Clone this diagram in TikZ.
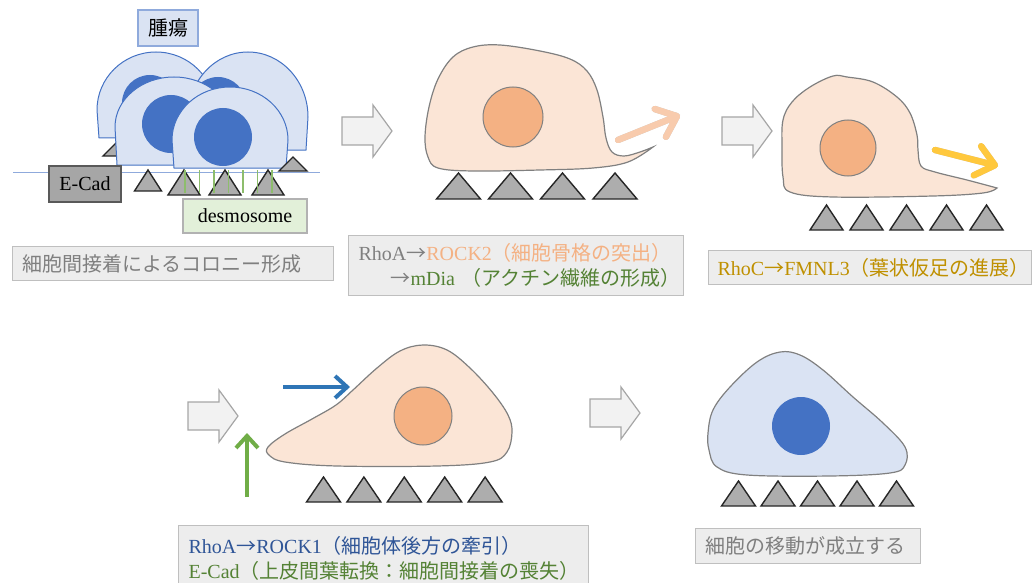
\documentclass[tikz,border=0pt]{standalone}
\usepackage{fontspec}
\setmainfont{Liberation Serif}
\newfontfamily\jpfont{Noto Sans CJK JP}
\usetikzlibrary{arrows.meta}
\newcommand{\ja}[1]{{\jpfont #1}}
\newcommand{\ra}{\ja{→}}
\definecolor{cellpeach}{HTML}{FBE5D6}
\definecolor{nucpeach}{HTML}{F4B183}
\definecolor{cellblue}{HTML}{DAE3F3}
\definecolor{nucblue}{HTML}{4472C4}
\definecolor{rimblue}{HTML}{8FAADC}
\definecolor{mintgreen}{HTML}{E2F0D9}
\definecolor{boxgray}{HTML}{EDEDED}
\definecolor{linegray}{HTML}{BFBFBF}
\definecolor{txtgray}{HTML}{7F7F7F}
\definecolor{outline}{HTML}{808080}
\definecolor{rockblue}{HTML}{2F5597}
\definecolor{pullblue}{HTML}{2E75B6}
\definecolor{leafgreen}{HTML}{548235}
\definecolor{emtgreen}{HTML}{70AD47}
\definecolor{gold}{HTML}{BF9000}
\definecolor{lamella}{HTML}{FFC83D}
\definecolor{bleb}{HTML}{F8CBAD}
\tikzset{
  txt/.style={font=\fontsize{10}{12.5}\selectfont},
  cell/.style={draw=outline, fill=cellpeach, line width=0.6pt},
  nucleus/.style={draw=outline, fill=nucpeach, line width=0.5pt},
  colony/.style={draw=nucblue, fill=cellblue, line width=0.5pt},
  focal/.style={draw=black!85, fill=black!32, line width=0.7pt, line join=miter},
  desmo/.style={draw=emtgreen!80, line width=0.6pt},
  capbox/.style={
      txt,
      draw=linegray,
      fill=boxgray,
      line width=0.6pt,
      anchor=north west,
      align=left,
      inner xsep=5pt,
      inner ysep=0pt,
      text=txtgray
  },
  tagbox/.style={txt, draw, line width=0.6pt, inner sep=0pt},
  movearrow/.style={line width=3.2pt, line cap=round, -{Straight Barb[length=9pt,width=15pt,round]}},
  thinarrow/.style={line width=2pt, -{Straight Barb[length=6pt,width=11pt]}},
  shadowed/.style={draw=black!22, shift={(1.5,2.5)}},
  pics/nextstage/.style={
      code={
        \draw[fill=black!5, draw=black!35, line width=0.6pt]
          (0,-14) -- (31,-14) -- (31,-26) -- (50,0) -- (31,26) -- (31,14) -- (0,14) -- cycle;
      }
  }
}
\begin{document}
\begin{tikzpicture}[x=0.5pt,y=-0.5pt]
	\useasboundingbox (0,0) rectangle (1033,583);

	% colony
	\draw[rimblue, line width=0.5pt] (13,172) -- (320,172);
	\draw[focal] (103,156) -- (118,141) -- (133,156) -- cycle;
	\draw[colony] (99,138) -- (97,110) arc[start angle=180, end angle=360, x radius=59, y radius=58] -- (215,138) -- cycle;
	\fill[nucblue] (150,103) circle[radius=28];
	\draw[colony] (190,150) -- (188,117) arc[start angle=180, end angle=360, x radius=60, y radius=65] -- (306,150) -- cycle;
	\fill[nucblue] (218,105) circle[radius=28];
	\draw[colony] (117,165) -- (115,127) arc[start angle=180, end angle=360, x radius=59, y radius=50] -- (231,165) -- cycle;
	\fill[nucblue] (171,124) circle[radius=29];
	\draw[colony] (174,168) -- (172,140) arc[start angle=180, end angle=360, x radius=58, y radius=53] -- (286,168) -- cycle;
	\fill[nucblue] (223,137) circle[radius=29];
	\draw[focal] (279,171) -- (293,157) -- (307,171) -- cycle;
	\draw[focal] (134.5,191) -- (148,170) -- (161.5,191) -- cycle;
	\foreach \x in {184,225,268}
		\draw[focal] (\x-16,195) -- (\x,170) -- (\x+16,195) -- cycle;
	\foreach \i in {0,...,6}
		\draw[desmo] (185+14.5*\i,170) -- (185+14.5*\i,193);
	\node[tagbox, fill=cellblue, draw=rimblue, minimum width=30pt, minimum height=18pt] (tumor) at (168,28) {\ja{腫瘍}};
	\node[tagbox, fill=black!35, draw=black!65, minimum width=36pt, minimum height=18pt] (ecad) at (85,184) {E-Cad};
	\node[tagbox, fill=mintgreen, draw=black!30, minimum width=62pt, minimum height=17pt] (desmosome) at (245,216) {desmosome};
	\node[capbox, text width=150.5pt, minimum height=17pt] (cap1) at (12,246) {\ja{細胞間接着によるコロニー形成}};

	% protrusion
	\pic at (342,131) {nextstage};
	\draw[cell] plot[smooth, tension=0.6] coordinates {(653,147) (640,152) (624,156) (612,152) (606,138) (603,117) (597,90) (587,71) (570,59) (540,51) (500,45) (473,47) (453,57) (438,79) (429,107) (425,137) (428,157) (438,168) (473,171) (540,170) (593,168) (628,162) (653,147)} -- cycle;
	\draw[nucleus] (513,117) circle[radius=30];
	\foreach \x in {458.5,510.5,562.5,615}
		\draw[focal] (\x-22,199) -- (\x,173) -- (\x+22,199) -- cycle;
	\coordinate (bleb0) at (618,140);
	\coordinate (bleb1) at (680,115);
	\draw[movearrow, shadowed] (bleb0) -- (bleb1);
	\draw[movearrow, bleb] (bleb0) -- (bleb1);
	\node[capbox, text width=157.5pt, minimum height=30pt] (cap2) at (348,235)
		{\mbox{RhoA\ra\textcolor{nucpeach}{ROCK2\ja{（細胞骨格の突出）}}}\\
		 \mbox{\hspace*{16pt}\ra\textcolor{leafgreen}{mDia \ja{（アクチン繊維の形成）}}}};

	% lamellipodium
	\pic at (722,131) {nextstage};
	\draw[cell] plot[smooth, tension=0.6] coordinates {(997,188) (967,180) (935,172) (921,166) (918,150) (917,135) (910,113) (897,97) (873,82) (847,77) (833,76) (810,87) (792,102) (783,120) (782,147) (783,177) (790,192) (833,197) (933,196) (983,193) (997,188)} -- cycle;
	\draw[nucleus] (848,148) circle[radius=28];
	\foreach \x in {826.5,866.5,906.5,946.5,986.5}
		\draw[focal] (\x-16.5,230) -- (\x,205) -- (\x+16.5,230) -- cycle;
	\coordinate (lam0) at (935,150);
	\coordinate (lam1) at (998,166);
	\draw[movearrow, shadowed] (lam0) -- (lam1);
	\draw[movearrow, lamella] (lam0) -- (lam1);
	\node[capbox, inner xsep=4.5pt, text width=152.5pt, minimum height=17pt, text=gold] (cap3) at (708,250)
		{\mbox{RhoC\ra FMNL3\ja{（葉状仮足の進展）}}};

	% rear traction
	\pic at (188,416) {nextstage};
	\draw[cell] plot[smooth cycle, tension=0.6] coordinates {(268,447) (285,434) (312,419) (336,405) (353,390) (377,368) (400,351) (423,345) (447,350) (470,368) (493,393) (508,415) (512,432) (507,452) (490,462) (437,466) (337,466) (285,462) (269,455)};
	\draw[nucleus] (423,416) circle[radius=29];
	\foreach \i in {0,...,4}
		\draw[focal] (306.5+40.4*\i,502) -- (323.5+40.4*\i,477) -- (340.5+40.4*\i,502) -- cycle;
	\coordinate (pull0) at (283,387);
	\coordinate (pull1) at (350,387);
	\draw[thinarrow, pullblue] (pull0) -- (pull1);
	\coordinate (emt0) at (247,497);
	\coordinate (emt1) at (247,433);
	\draw[thinarrow, emtgreen] (emt0) -- (emt1);
	\node[capbox, text width=195pt, minimum height=32.5pt] (cap4) at (178,525)
		{\mbox{\textcolor{rockblue}{RhoA\ra ROCK1\ja{（細胞体後方の牽引）}}}\\
		 \mbox{\textcolor{leafgreen}{E-Cad\ja{（上皮間葉転換：細胞間接着の喪失）}}}};

	% migration
	\pic at (590,413) {nextstage};
	\draw[cell, fill=cellblue] plot[smooth cycle, tension=0.6] coordinates {(708,433) (713,410) (730,387) (757,362) (780,352) (800,355) (823,370) (853,397) (883,423) (905,447) (905,465) (890,473) (830,476) (747,475) (717,467) (709,450)};
	\fill[nucblue] (801,426) circle[radius=29];
	\foreach \i in {0,...,4}
		\draw[focal] (721.5+39.5*\i,506) -- (738.5+39.5*\i,481) -- (755.5+39.5*\i,506) -- cycle;
	\node[capbox, text width=102.5pt, minimum height=17.5pt] (cap5) at (695,528) {\ja{細胞の移動が成立する}};
\end{tikzpicture}
\end{document}
